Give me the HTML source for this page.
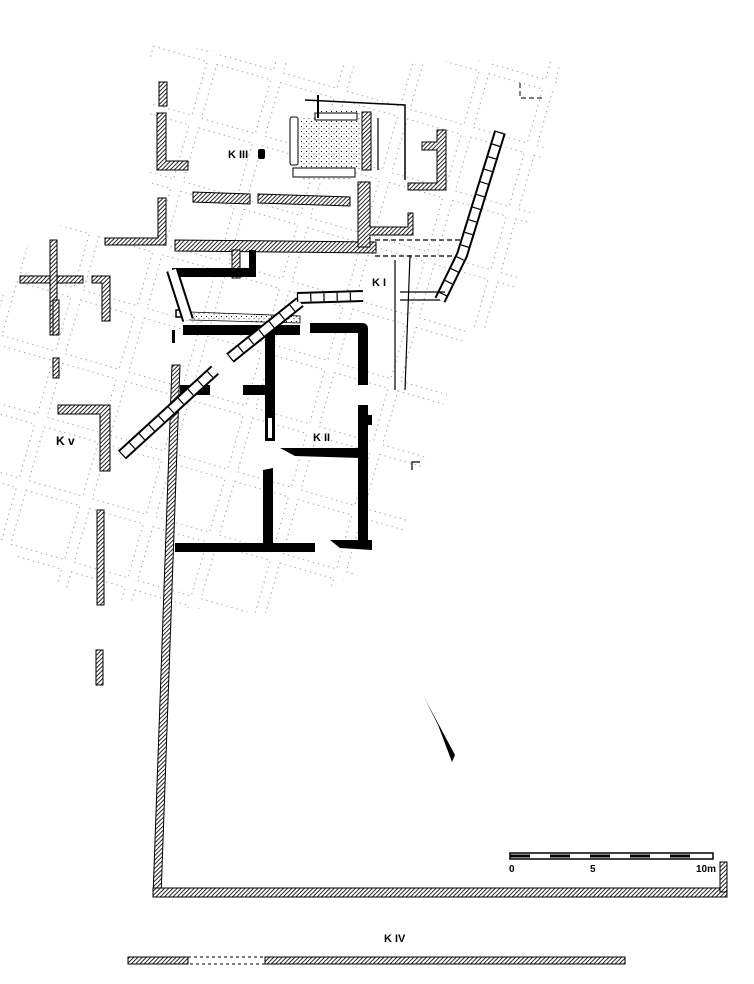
<!DOCTYPE html>
<html><head><meta charset="utf-8"><style>
html,body{margin:0;padding:0;background:#fff}
svg{display:block}
text{font-family:"Liberation Sans",sans-serif;font-weight:bold;fill:#000}
</style></head><body>
<svg width="754" height="984" viewBox="0 0 754 984" xmlns="http://www.w3.org/2000/svg">
<defs>
<pattern id="h" width="3" height="3" patternUnits="userSpaceOnUse" patternTransform="rotate(45)">
<rect width="3" height="3" fill="#fff"/><line x1="0" y1="0" x2="0" y2="3" stroke="#000" stroke-width="1.7"/>
</pattern>
<pattern id="g" width="66" height="66" patternUnits="userSpaceOnUse" patternTransform="translate(150,40) rotate(16)">
<rect x="5" y="5" width="56" height="56" fill="none" stroke="#777" stroke-width="0.8" stroke-dasharray="1.2,4"/>
</pattern>
<pattern id="s" width="5" height="5" patternUnits="userSpaceOnUse"><rect width="5" height="5" fill="#fff"/><circle cx="1.5" cy="1.5" r="0.6" fill="#000"/><circle cx="4" cy="3.8" r="0.5" fill="#000"/></pattern>
</defs>

<polygon points="150,42 320,65 500,60 560,62 555,110 505,330 470,330 420,470 400,545 290,615 80,600 0,545 0,300 40,222 150,240" fill="url(#g)"/>

<g fill="url(#h)" stroke="#000" stroke-width="1">
<rect x="159" y="82" width="8" height="24"/>
<path d="M157,113 h9 v48 h22 v9 h-31z"/>
<path d="M158,198 h8 v47 h-61 v-7 h53z"/>
<polygon points="175,240 376,242 376,253 175,251"/>
<polygon points="193,192 250,194 250,204 193,202"/>
<polygon points="258,194 350,197 350,206 258,203"/>
<path d="M358,182 h12 v45 h38 v-14 h5 v22 h-43 v12 h-12z"/>
<rect x="362" y="112" width="9" height="58"/>
<path d="M437,130 h9 v60 h-38 v-7 h29 v-33 h-15 v-8 h15z"/>
<rect x="20" y="276" width="63" height="7"/>
<rect x="50" y="240" width="7" height="95"/>
<path d="M92,276 h18 v45 h-8 v-38 h-10z"/>
<rect x="53" y="300" width="6" height="35"/>
<rect x="53" y="358" width="6" height="20"/>
<path d="M58,405 h52 v66 h-10 v-57 h-42z"/>
<rect x="97" y="510" width="7" height="95"/>
<rect x="96" y="650" width="7" height="35"/>
<polygon points="172,365 180,365 161,897 153,897"/>
<rect x="153" y="888" width="574" height="9"/>
<rect x="720" y="862" width="7" height="30"/>
<rect x="128" y="957" width="60" height="7"/>
<rect x="265" y="957" width="360" height="7"/>
<rect x="232" y="250" width="8" height="28"/>
</g>
<rect x="188" y="957" width="77" height="7" fill="none" stroke="#000" stroke-width="1" stroke-dasharray="3,3"/>

<rect x="290" y="117" width="8" height="48" fill="#fff" stroke="#000" rx="2"/>
<path d="M300,118 h20 v-8 h40 v60 h-10 v10 h-50z" fill="url(#s)"/>
<rect x="315" y="113" width="42" height="7" fill="#fff" stroke="#000"/>
<rect x="293" y="168" width="62" height="9" fill="#fff" stroke="#000"/>
<polyline points="318,95 318,118" stroke="#000" stroke-width="2" fill="none"/>
<polyline points="305,100 405,105 405,180" stroke="#000" stroke-width="1.5" fill="none"/>
<polyline points="378,118 378,170" stroke="#000" stroke-width="1.2" fill="none"/>
<path d="M520,83 v15 h25" stroke="#000" fill="none" stroke-dasharray="5,3"/>

<g fill="#000">
<rect x="172" y="268" width="84" height="9"/>
<rect x="249" y="250" width="7" height="27"/>
<rect x="183" y="325" width="117" height="10"/>
<path d="M310,323 h52 q6,0 6,6 v56 h-10 v-52 h-48z"/>
<rect x="265" y="333" width="10" height="108"/>
<rect x="180" y="385" width="30" height="10"/>
<rect x="243" y="385" width="28" height="10"/>
<rect x="358" y="405" width="10" height="142"/>
<rect x="366" y="415" width="6" height="10"/>
<polygon points="280,448 360,448 360,458 295,456"/>
<polygon points="263,470 273,468 273,545 263,545"/>
<rect x="175" y="543" width="140" height="9"/>
<polygon points="330,540 372,540 372,550 340,548"/>
<rect x="172" y="330" width="3" height="13"/>
<rect x="176" y="310" width="7" height="7" fill="none" stroke="#000" stroke-width="1.5"/>
</g>
<rect x="268" y="418" width="4" height="20" fill="#fff"/>
<polygon points="190,312 300,316 300,323 190,320" fill="url(#s)" stroke="#000" stroke-width="0.8"/>

<g fill="none">
<g stroke="#000" stroke-width="12"><line x1="297" y1="298" x2="363" y2="296"/><line x1="122" y1="455" x2="215" y2="370"/><line x1="230" y1="358" x2="300" y2="302"/><polyline points="500,132 462,255 440,300"/><polyline points="172,270 180,295 188,320"/></g>
<g stroke="#fff" stroke-width="8"><line x1="297" y1="298" x2="363" y2="296"/><line x1="122" y1="455" x2="215" y2="370"/><line x1="230" y1="358" x2="300" y2="302"/><polyline points="500,132 462,255 440,300"/><polyline points="172,270 180,295 188,320"/></g>
<g stroke="#000" stroke-width="8" stroke-dasharray="1.2,12"><line x1="297" y1="298" x2="363" y2="296"/><line x1="122" y1="455" x2="215" y2="370"/><line x1="230" y1="358" x2="300" y2="302"/><polyline points="500,132 462,255 440,300"/></g>
<g stroke="#000" stroke-width="1.2"><line x1="395" y1="260" x2="395" y2="390"/><line x1="410" y1="255" x2="405" y2="390"/><line x1="375" y1="240" x2="460" y2="240" stroke-dasharray="5,3"/><line x1="375" y1="256" x2="455" y2="256" stroke-dasharray="5,3"/><line x1="400" y1="292" x2="445" y2="292"/><line x1="400" y1="300" x2="440" y2="300"/><polyline points="412,470 412,462 420,462"/></g>
</g>

<rect x="510" y="853" width="203" height="6" fill="#fff" stroke="#000" stroke-width="1.5"/>
<g stroke="#000" stroke-width="3"><line x1="510" y1="856" x2="530" y2="856"/><line x1="550" y1="856" x2="570" y2="856"/><line x1="590" y1="856" x2="610" y2="856"/><line x1="630" y1="856" x2="650" y2="856"/><line x1="670" y1="856" x2="690" y2="856"/></g>
<text x="509" y="872" font-size="10" font-weight="normal">0</text>
<text x="590" y="872" font-size="10" font-weight="normal">5</text>
<text x="696" y="872" font-size="10" font-weight="normal">10m</text>

<polygon points="424,697 455,755 452,762 438,725" fill="#000"/>

<text x="228" y="158" font-size="11">K III</text>
<rect x="258" y="149" width="7" height="10" fill="#000" rx="2"/>
<text x="372" y="286" font-size="11">K I</text>
<text x="313" y="441" font-size="11">K II</text>
<text x="56" y="445" font-size="12">K v</text>
<text x="384" y="942" font-size="11">K IV</text>
</svg>
</body></html>
